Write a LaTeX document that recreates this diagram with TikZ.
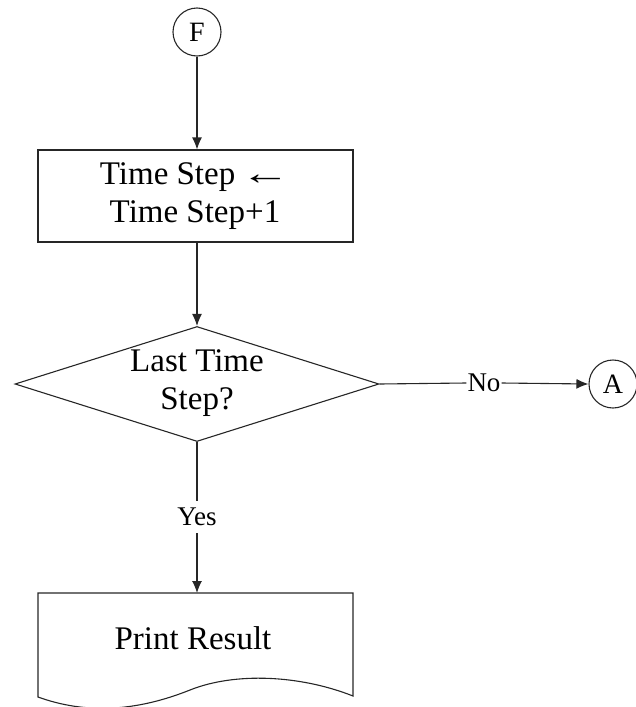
\documentclass[tikz,border=0pt]{standalone}
\usepackage{fontspec}
\setmainfont{Liberation Serif}
\usetikzlibrary{arrows.meta,shapes.geometric}
\begin{document}
\begin{tikzpicture}[x=1pt,y=-1pt,
  line/.style={draw=black!85,line width=1.1pt},
  arr/.style={line,-{Latex[length=12pt,width=10pt]}},
  conn/.style={circle,line,minimum size=48pt,inner sep=0pt,font=\fontsize{28}{28}\selectfont},
  txt/.style={font=\fontsize{33}{38}\selectfont,align=center},
  lbl/.style={font=\fontsize{27}{28}\selectfont,fill=white}]
\useasboundingbox (0,0) rectangle (636,707);
\node[conn] (F) at (197,32) {F};
\node[line,rectangle,minimum width=315pt,minimum height=92pt,inner sep=0pt] (box) at (195.5,196) {};
\node[txt] (boxtext) at (195,196) {Time Step\hspace{-3pt} \scalebox{1.5}[1]{←}\\Time Step+1};
\node[line,diamond,aspect=3.17,minimum width=364pt,minimum height=115pt,inner sep=0pt] (dec) at (197,384) {};
\node[txt] (dectext) at (197,383) {Last Time\\Step?};
\node[conn] (A) at (613,384) {A};
\coordinate (doctop) at (197,593);
\draw[line] (38,593) -- (353,593) -- (353,696)
  .. controls (300,675) and (235,672) .. (190,690)
  .. controls (135,712) and (85,714) .. (38,697) -- cycle;
\node[txt] (pr) at (193,638) {Print Result};
\draw[arr] (F) -- (F |- box.north);
\draw[arr] (box.south -| F) -- (dec.north);
\node[lbl,inner sep=1pt] (no) at (484,383) {No};
\draw[line] (dec.east) -- (no.west);
\draw[arr] (no.east) -- (A.west);
\node[lbl,inner xsep=2pt,inner ysep=7pt] (yes) at (197,517) {Yes};
\draw[line] (dec.south) -- (yes.north);
\draw[arr] (yes.south) -- (doctop);
\end{tikzpicture}
\end{document}
